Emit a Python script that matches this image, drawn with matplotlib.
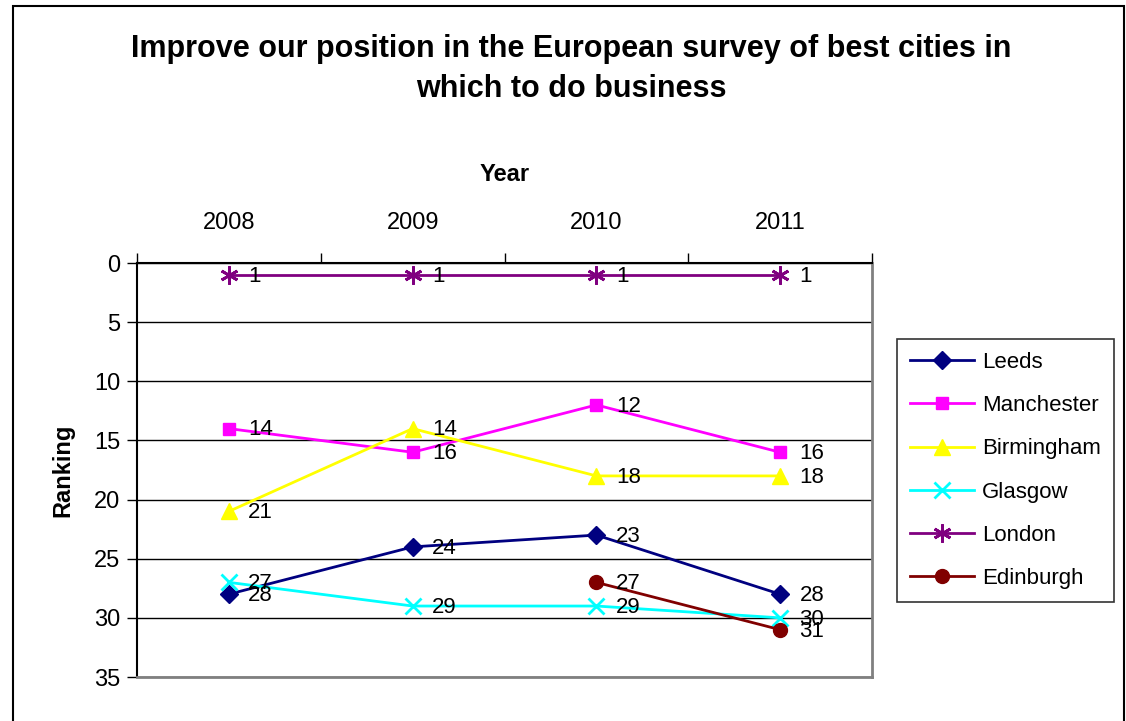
import numpy as np
import matplotlib
matplotlib.use('Agg')
import matplotlib.pyplot as plt
from matplotlib.patches import Rectangle

plt.rcParams['font.family'] = ['Liberation Sans', 'DejaVu Sans']

# dados do gráfico
anos = ['2008', '2009', '2010', '2011']
leeds = [28, 24, 23, 28]
manchester = [14, 16, 12, 16]
birmingham = [21, 14, 18, 18]
glasgow = [27, 29, 29, 30]
london = [1, 1, 1, 1]
edinburgh = [np.nan, np.nan, 27, 31]

series = [
    ('Leeds', leeds, '#000080', 'D', 9),
    ('Manchester', manchester, '#FF00FF', 's', 9),
    ('Birmingham', birmingham, '#FFFF00', '^', 11),
    ('Glasgow', glasgow, '#00FFFF', 'x', 11),
    ('London', london, '#800080', (6, 2, 0), 13),
    ('Edinburgh', edinburgh, '#800000', 'o', 10),
]

fig = plt.figure(figsize=(11.26, 7.21), dpi=100)
ax = fig.add_axes([137 / 1126, 1 - 677 / 721, (872 - 137) / 1126, (677 - 263) / 721])

x = np.arange(len(anos))
for nome, valores, cor, marcador, tam in series:
    mew = 2 if marcador in ('x',) or isinstance(marcador, tuple) else 1
    ax.plot(x, valores, color=cor, marker=marcador, markersize=tam,
            markeredgewidth=mew, linewidth=2, label=nome, zorder=3)
    for xi, v in zip(x, valores):
        if not np.isnan(v):
            ax.annotate(str(int(v)), (xi, v), xytext=(14, -1), textcoords='offset points',
                        va='center', ha='left', fontsize=16, zorder=4)

ax.set_xlim(-0.5, 3.5)
ax.set_ylim(35, 0)
ax.set_yticks(range(0, 36, 5))
ax.yaxis.grid(True, color='black', linewidth=1)
ax.set_axisbelow(True)

# eixo x no topo, marcas nas divisas das categorias
ax.xaxis.tick_top()
ax.set_xticks(x)
ax.set_xticklabels(anos)
ax.set_xticks(np.arange(-0.5, 4, 1), minor=True)
ax.tick_params(axis='x', which='major', length=0, pad=21, labelsize=17)
ax.tick_params(axis='x', which='minor', length=7, width=1, direction='out')
ax.tick_params(axis='y', length=7, width=1, direction='out', pad=5, labelsize=17)
ax.xaxis.set_label_position('top')
ax.set_xlabel('Year', fontsize=17, fontweight='bold', labelpad=22)
ax.set_ylabel('Ranking', fontsize=17, fontweight='bold', labelpad=14)

for lado in ('left', 'top'):
    ax.spines[lado].set_color('black')
    ax.spines[lado].set_linewidth(1.5)
for lado in ('right', 'bottom'):
    ax.spines[lado].set_color('#808080')
    ax.spines[lado].set_linewidth(2)

fig.text(571 / 1126, 1 - 69 / 721,
         'Improve our position in the European survey of best cities in\nwhich to do business',
         ha='center', va='center', fontsize=22, fontweight='bold', linespacing=1.4)

leg = fig.legend(loc='center', bbox_to_anchor=(1005.5 / 1126, 1 - 470.5 / 721),
                 fontsize=16, frameon=True, fancybox=False, edgecolor='black',
                 handlelength=2.9, labelspacing=1.0, borderpad=0.6, handletextpad=0.35)
leg.get_frame().set_linewidth(1.2)

# moldura externa da figura
fig.patches.append(Rectangle((13 / 1126, -0.05), (1124 - 13) / 1126, 1.05 - 6 / 721,
                             transform=fig.transFigure, fill=False, edgecolor='black',
                             linewidth=1.5))

fig.savefig('out.png', dpi=100)
